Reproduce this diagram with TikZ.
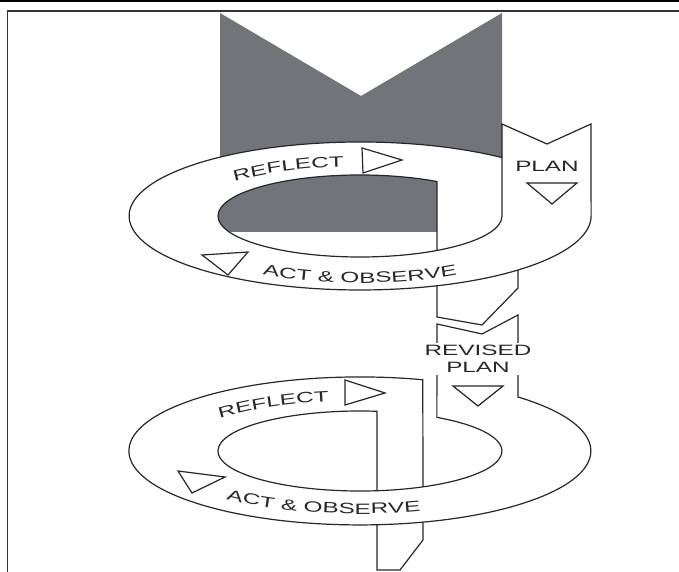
\documentclass[tikz,border=0pt]{standalone}
\usepackage{fontspec}
\newfontfamily\lblfont[FakeStretch=1.62]{Liberation Sans}
\newcommand\lblsize{\lblfont\fontsize{15}{16.5}\selectfont}
\usetikzlibrary{decorations.text}
\definecolor{bandgray}{RGB}{115,116,120}
\definecolor{ink}{RGB}{38,38,44}
\begin{document}
\begin{tikzpicture}[x=1pt,y=1pt,
  outline/.style={draw=ink, line width=1.2pt, line join=miter},
  tri/.style={draw=ink, line width=1.2pt, fill=white, line join=miter},
  lbl/.style={font=\lblsize, text=ink},
  frameline/.style={draw=black, line width=2pt},
  curvetext/.style={decorate, decoration={text along path, text align=center, text color=ink, text={|\lblsize|#1}}}
]
\useasboundingbox (0,0) rectangle (679,572);
% frame
\draw[frameline] (0,571) -- (679,571);
\draw[draw=black!80, line width=1.5pt] (679,561) -- (7.5,561) -- (7.5,0);

% ---------- upper cycle ----------
% grey back band
\fill[bandgray] (220,559) -- (361,476) -- (502,559) -- (502,400) -- (220,400) -- cycle;
% white ring
\fill[white, even odd rule] (360,356) ellipse[x radius=231, y radius=74]
                            (360,356) ellipse[x radius=142, y radius=41];
% grey seen through the hole
\begin{scope}
  \clip (360,356) ellipse[x radius=142, y radius=41];
  \fill[bandgray] (200,340) rectangle (437,420);
\end{scope}
% outline of ring + PLAN strip
\draw[outline] (502,414.4) arc[start angle=52.1, end angle=360, x radius=231, y radius=74]
  -- (591,448) -- (547,428) -- (502,448) -- (502,356)
  arc[start angle=0, end angle=-302.8, x radius=142, y radius=41]
  -- (437,321.6);
% strip leaving the upper cycle
\draw[outline] (437,286.2) -- (437,255) -- (482,247) -- (518,284) -- (518,302);

% ---------- lower cycle ----------
\draw[outline] (377,81.3) -- (377,160.7)
  arc[start angle=83.1, end angle=417.2, x radius=142, y radius=40]
  -- (437,248) -- (482,238) -- (518,257) -- (518,175)
  arc[start angle=46.8, end angle=-285.8, x radius=231, y radius=74]
  -- (423,85.2);
% strip leaving the lower cycle
\draw[outline] (377,47.2) -- (377,2) -- (400,2) -- (423,32) -- (423,49.8);

% ---------- direction triangles ----------
\draw[tri] (362,424) -- (402,412) -- (363,399) -- cycle;
\draw[tri] (202,317) -- (248,320) -- (228,297) -- cycle;
\draw[tri] (527,389) -- (577,389) -- (552,368) -- cycle;
\draw[tri] (345,192) -- (385,179) -- (345,167) -- cycle;
\draw[tri] (178,101) -- (225,95) -- (192,79) -- cycle;
\draw[tri] (453,186) -- (503,186) -- (478,166) -- cycle;

% ---------- labels ----------
\node[lbl] (plan) at (547,406) {PLAN};
\node[lbl, fill=white, align=center, inner sep=3pt] (rplan) at (478,213) {REVISED\\PLAN};

\path[curvetext=REFLECT] (194.7,372.3)
  arc[start angle=160.8, end angle=80.8, x radius=175, y radius=49.5];
\path[curvetext={ACT {\&} OBSERVE}] (206.8,312.9)
  arc[start angle=220, end angle=320, x radius=200, y radius=67];
\path[curvetext=REFLECT] (180.6,133.2)
  arc[start angle=165.9, end angle=85.9, x radius=185, y radius=50];
\path[curvetext={ACT {\&} OBSERVE}] (172.3,94.5)
  arc[start angle=204.9, end angle=304.9, x radius=207, y radius=63];
\end{tikzpicture}
\end{document}
